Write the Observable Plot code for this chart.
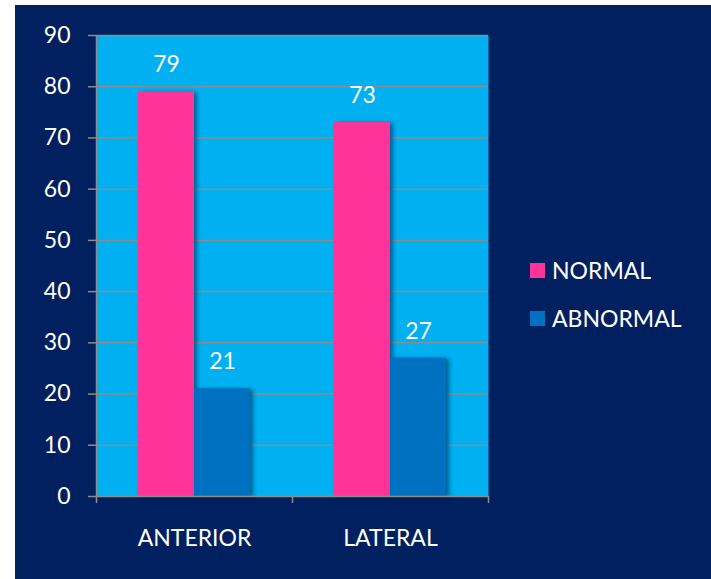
<!DOCTYPE html>
<html>
<head>
<meta charset="utf-8">
<script src="https://cdn.jsdelivr.net/npm/d3@7"></script>
<script src="https://cdn.jsdelivr.net/npm/@observablehq/plot@0.6"></script>
<style>
  html, body { margin: 0; padding: 0; background: #ffffff; }
  #wrap { position: absolute; left: 15px; top: 5px; width: 696px; height: 574px; background: #002060; overflow: hidden; }
  #legend { position: absolute; left: 515px; top: 241px; font-family: Lato, "DejaVu Sans", sans-serif; font-size: 23px; color: #ffffff; }
  #legend .row { display: flex; align-items: center; height: 48px; }
  #legend .sw { width: 15px; height: 15px; margin-right: 7px; }
</style>
</head>
<body>
<div id="wrap"><div id="chart"></div><div id="legend"></div></div>
<script>
const categories = ["ANTERIOR", "LATERAL"];
const series = ["NORMAL", "ABNORMAL"];
const normalValues = [79, 73];
const abnormalValues = [21, 27];
const yTicks = [0, 10, 20, 30, 40, 50, 60, 70, 80, 90];
const colors = ["#FF3399", "#0070C0"];

const data = categories.flatMap((c, i) => [
  {cat: c, series: series[0], value: normalValues[i]},
  {cat: c, series: series[1], value: abnormalValues[i]}
]);

const W = 696, H = 574, mL = 81, mR = 223, mT = 30, mB = 83;
const bandW = (W - mL - mR) / categories.length;
const outer = 42, barW = (bandW - 2 * outer) / 2;
const grid = "#8C8C8C";
const font = "Lato, 'DejaVu Sans', sans-serif";

const plot = Plot.plot({
  width: W, height: H,
  marginLeft: mL, marginRight: mR, marginTop: mT, marginBottom: mB,
  style: {background: "transparent", color: "#ffffff", fontFamily: font, fontSize: "23px"},
  x: {domain: categories, padding: 0, label: null},
  y: {domain: [0, 90], label: null},
  marks: [
    Plot.frame({fill: "#00B0F0", stroke: null}),
    Plot.gridY(yTicks.filter(v => v > 0), {stroke: grid, strokeOpacity: 1, strokeWidth: 1.5}),
    Plot.barY(data.filter(d => d.series === series[0]), {x: "cat", y: "value", fill: colors[0], insetLeft: outer, insetRight: outer + barW}),
    Plot.barY(data.filter(d => d.series === series[1]), {x: "cat", y: "value", fill: colors[1], insetLeft: outer + barW, insetRight: outer}),
    Plot.ruleY([0], {stroke: grid, strokeWidth: 1.5}),
    Plot.ruleX([categories[0]], {x: d => d, y1: 90, y2: 0, dx: -bandW / 2, insetBottom: -7, stroke: grid, strokeWidth: 1.5}),
    Plot.ruleX(categories, {x: d => d, y1: 0, y2: 0, dx: bandW / 2, insetBottom: -7, stroke: grid, strokeWidth: 1.5}),
    Plot.axisY(yTicks, {tickSize: 8, tickPadding: 18, stroke: grid, strokeWidth: 1.5, fill: "#ffffff", fontSize: 23, tickFormat: d => String(d), label: null}),
    Plot.axisX({tickSize: 0, tickPadding: 33, fill: "#ffffff", fontSize: 23, label: null}),
    Plot.text(data.filter(d => d.series === series[0]), {x: "cat", y: "value", text: d => String(d.value), dx: -barW / 2, dy: -27, fill: "#ffffff", fontSize: 23}),
    Plot.text(data.filter(d => d.series === series[1]), {x: "cat", y: "value", text: d => String(d.value), dx: barW / 2, dy: -27, fill: "#ffffff", fontSize: 23})
  ]
});
plot.querySelectorAll('g[aria-label="bar"]').forEach(g => g.style.filter = "drop-shadow(3px 1px 2px rgba(0,0,40,0.45))");
document.getElementById("chart").appendChild(plot);

const legend = d3.select("#legend");
series.forEach((s, i) => {
  const row = legend.append("div").attr("class", "row");
  row.append("div").attr("class", "sw").style("background", colors[i]);
  row.append("span").text(s);
});
</script>
</body>
</html>
